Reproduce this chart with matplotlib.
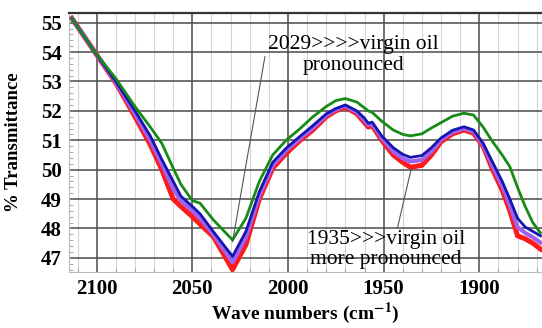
import numpy as np
import matplotlib
matplotlib.use('Agg')
import matplotlib.pyplot as plt
from matplotlib.ticker import MultipleLocator

plt.rcParams['font.family'] = ['Liberation Serif', 'DejaVu Serif']
plt.rcParams['mathtext.fontset'] = 'stix'

# wavenumbers (cm^-1)
wn = [2113, 2101, 2090, 2080, 2072, 2066, 2060, 2056, 2050, 2046, 2039, 2029,
      2022, 2015, 2008, 2001, 1994, 1987, 1980, 1975, 1970, 1964, 1960, 1958,
      1956, 1951, 1945, 1940, 1936, 1930, 1925, 1920, 1914, 1908, 1903, 1898,
      1893, 1888, 1884, 1880, 1876, 1872, 1868]

red = [55.15, 54.0, 52.95, 51.8, 50.85, 50.0, 49.0, 48.75, 48.4, 48.15, 47.72, 46.6,
       47.45, 49.0, 50.05, 50.55, 50.98, 51.35, 51.8, 52.0, 52.13, 51.9, 51.6, 51.45,
       51.5, 51.0, 50.5, 50.25, 50.08, 50.15, 50.5, 50.95, 51.22, 51.35, 51.24, 50.8,
       50.0, 49.3, 48.6, 47.75, 47.65, 47.5, 47.3]

purple = [55.15, 54.0, 52.98, 51.9, 51.0, 50.2, 49.35, 48.95, 48.6, 48.35, 47.8, 46.85,
          47.7, 49.12, 50.15, 50.65, 51.05, 51.42, 51.85, 52.04, 52.17, 51.95, 51.68, 51.52,
          51.56, 51.08, 50.62, 50.38, 50.28, 50.33, 50.62, 51.02, 51.28, 51.4, 51.3, 50.85,
          50.12, 49.45, 48.8, 48.05, 47.85, 47.7, 47.52]

blue = [55.15, 54.0, 53.0, 52.0, 51.15, 50.35, 49.6, 49.1, 48.75, 48.5, 47.89, 47.05,
        47.9, 49.25, 50.25, 50.73, 51.12, 51.5, 51.9, 52.08, 52.2, 52.0, 51.75, 51.58,
        51.62, 51.15, 50.75, 50.52, 50.42, 50.48, 50.75, 51.08, 51.34, 51.46, 51.35, 50.9,
        50.25, 49.6, 49.0, 48.35, 48.05, 47.9, 47.75]

green = [55.15, 54.0, 53.1, 52.15, 51.45, 50.9, 50.05, 49.5, 48.95, 48.86, 48.29, 47.61,
         48.35, 49.6, 50.5, 51.0, 51.38, 51.8, 52.15, 52.35, 52.42, 52.3, 52.1, 52.0,
         51.95, 51.65, 51.35, 51.2, 51.15, 51.22, 51.42, 51.6, 51.82, 51.92, 51.86, 51.45,
         50.95, 50.5, 50.1, 49.4, 48.75, 48.2, 47.85]

xticks = [2100, 2050, 2000, 1950, 1900]
yticks = [47, 48, 49, 50, 51, 52, 53, 54, 55]

W, H = 542, 328
fig = plt.figure(figsize=(W / 100, H / 100), dpi=100)
ax = fig.add_axes([69 / W, (H - 272) / H, (W - 69) / W, (272 - 13) / H])

ax.plot(wn, red, color='#ff1a1a', lw=3.6, solid_joinstyle='round', zorder=3)
ax.plot(wn, purple, color='#a060f0', lw=3.0, solid_joinstyle='round', zorder=4)
ax.plot(wn, blue, color='#1515b0', lw=2.0, solid_joinstyle='round', zorder=5)
ax.plot(wn, green, color='#178a17', lw=2.0, solid_joinstyle='round', zorder=6)

ax.set_xlim(2114.5, 1867.2)
ax.set_ylim(46.52, 55.33)
ax.set_xticks(xticks)
ax.set_yticks(yticks)
ax.xaxis.set_minor_locator(MultipleLocator(10))
ax.yaxis.set_minor_locator(MultipleLocator(0.2))

ax.grid(which='major', color='#4a4a4a', lw=1.1, zorder=1)
ax.grid(which='minor', axis='x', color='#d4d4d4', lw=0.8, zorder=0)
ax.tick_params(which='major', length=0, labelsize=15, pad=5)
ax.tick_params(which='minor', length=3, direction='in', color='#999999')
for lab in ax.get_xticklabels() + ax.get_yticklabels():
    lab.set_fontweight('bold')

ax.spines['right'].set_visible(False)
ax.spines['top'].set_color('#333333')
ax.spines['top'].set_linewidth(1.6)
for s in ['left', 'bottom']:
    ax.spines[s].set_color('#bbbbbb')
    ax.spines[s].set_linewidth(0.8)

ax.set_xlabel(r'Wave numbers (cm$^{\mathbf{-1}}$)', fontsize=14, fontweight='bold', labelpad=1)
ax.set_ylabel('% Transmittance', fontsize=13.5, fontweight='bold')
ax.yaxis.set_label_coords(-0.1, 0.5)

ax.annotate('2029>>>>virgin oil\npronounced', xy=(2029, 47.55), xytext=(1966, 53.9),
            ha='center', va='center', fontsize=15.5, linespacing=1.2,
            arrowprops=dict(arrowstyle='-', color='#555555', lw=0.8,
                            relpos=(0.0, 0.85), shrinkA=0, shrinkB=0),
            zorder=8)
ax.annotate('1935>>>virgin oil\nmore pronounced', xy=(1935.5, 50.05), xytext=(1948.8, 47.29),
            ha='center', va='center', fontsize=15.5, linespacing=1.07,
            arrowprops=dict(arrowstyle='-', color='#555555', lw=0.8,
                            relpos=(0.57, 1.0), shrinkA=0, shrinkB=0),
            zorder=8)

fig.savefig('out.png', dpi=100)
